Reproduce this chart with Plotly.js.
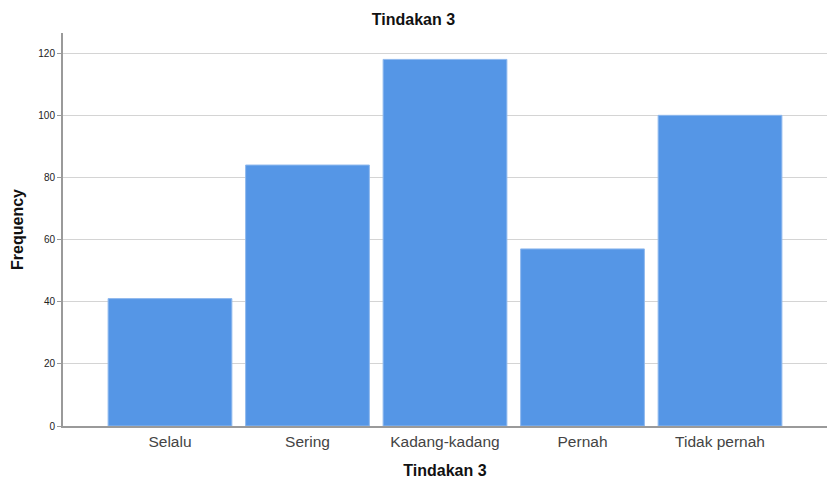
<!DOCTYPE html>
<html><head><meta charset="utf-8">
<script src="https://cdn.plot.ly/plotly-3.0.1.min.js"></script>
<style>html,body{margin:0;padding:0;background:#fff}#chart{width:827px;height:486px}</style>
</head><body><div id="chart"></div>
<script>
const categories = ["Selalu", "Sering", "Kadang-kadang", "Pernah", "Tidak pernah"];
const frequencies = [41, 84, 118, 57, 100];
const yTickValues = [0, 20, 40, 60, 80, 100, 120];

const font = "Liberation Sans, Arial, sans-serif";
Plotly.newPlot("chart", [{
  type: "bar",
  x: categories,
  y: frequencies,
  marker: {color: "#5596e6", line: {color: "#8fb9ee", width: 1}},
  hoverinfo: "x+y"
}], {
  width: 827, height: 486,
  margin: {l: 63, r: 0, t: 33, b: 60},
  paper_bgcolor: "#fff", plot_bgcolor: "#fff",
  bargap: 0.1,
  title: {text: "<b>Tindakan 3</b>", font: {family: font, size: 16, color: "#111"}, x: 0.5, xanchor: "center", y: 0.96, yanchor: "middle"},
  xaxis: {
    range: [-0.778, 4.778],
    showline: true, linecolor: "#9a9a9a", linewidth: 2,
    ticks: "", showgrid: false,
    tickfont: {family: font, size: 15.5, color: "#444"},
    title: {text: "<b>Tindakan 3</b>", font: {family: font, size: 16, color: "#111"}, standoff: 16}
  },
  yaxis: {
    range: [0, 126.5],
    tickvals: yTickValues,
    showline: true, linecolor: "#9a9a9a", linewidth: 2,
    ticks: "outside", ticklen: 4, tickcolor: "#9a9a9a",
    showgrid: true, gridcolor: "#d4d4d4", gridwidth: 1,
    zeroline: false,
    tickfont: {family: font, size: 10, color: "#222"},
    title: {text: "<b>Frequency</b>", font: {family: font, size: 16, color: "#111"}, standoff: 11}
  },
  showlegend: false
}, {displayModeBar: false, staticPlot: true});
</script></body></html>
